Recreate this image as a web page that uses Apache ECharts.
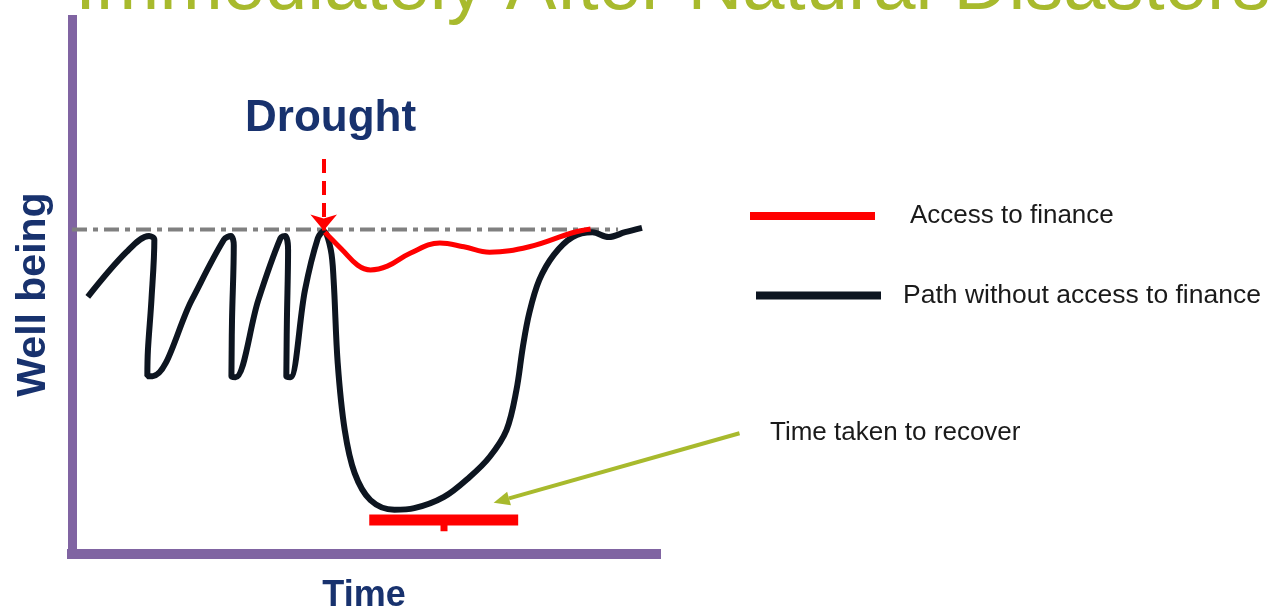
<!DOCTYPE html>
<html>
<head>
<meta charset="utf-8">
<title>Well being after drought</title>
<script src="https://cdn.jsdelivr.net/npm/echarts@6/dist/echarts.min.js"></script>
<style>
  html, body { margin: 0; padding: 0; background: #fff; }
  #chart { width: 1269px; height: 612px; }
</style>
</head>
<body>
<div id="chart"></div>
<script>
// time runs 0..100 left to right, well being 0..100 bottom to top
const normalLevel = 60.2
const baseline = [[0, normalLevel], [93.5, normalLevel]]

// path without access to finance (zig-zag, then the deep dip after the drought)
const noFinance = [
  [2.7, 47.7], [9.3, 56.0], [13.2, 59.0], [14.1, 58.3], [13.6, 47.1], [13.0, 37.8], [12.9, 33.0], [13.8, 33.0],
  [20.5, 47.1], [26.0, 58.3], [27.2, 59.0], [27.7, 57.3], [27.4, 43.4], [27.3, 33.0], [28.0, 32.8],
  [31.9, 47.1], [35.7, 58.6], [36.5, 59.0], [37.0, 56.4], [36.8, 43.4], [36.7, 33.0], [37.4, 32.8],
  [39.9, 49.0], [42.1, 58.6], [43.1, 59.9], [44.3, 56.5], [44.8, 50.8], [45.5, 35.4], [46.7, 23.0],
  [48.4, 15.0], [51.1, 10.0], [55.2, 8.2], [58.6, 8.5], [63.7, 10.6], [68.1, 14.3], [71.5, 18.0],
  [74.4, 23.0], [76.1, 30.4], [77.2, 38.4], [78.3, 44.7], [80.0, 50.8], [82.5, 55.5], [85.7, 58.8],
  [89.1, 59.7], [91.9, 58.8], [94.7, 59.7], [97.6, 60.5]
]

// path with access to finance
const withFinance = [
  [43.3, 59.7], [46.3, 56.4], [48.9, 53.6], [51.1, 52.7], [54.0, 53.4], [57.9, 55.8], [63.0, 57.7],
  [67.1, 57.0], [71.5, 56.0], [78.3, 57.0], [85.7, 59.6], [88.8, 60.3]
]

// drought hits at this moment
const droughtTime = 43.1
const droughtArrow = [[droughtTime, 73.3], [droughtTime, 60.0]]

// recovery period bar and its middle tick
const recoverBar = [[50.9, 6.3], [76.4, 6.3]]
const recoverTick = [[63.7, 6.3], [63.7, 4.2]]

// green pointer from the note to the recovery bar
const pointerFrom = [114.3, 22.4]
const pointerTo = [72.2, 9.5]

const navy = '#18326e'
const purple = '#8064a2'
const olive = '#a8ba2d'

let chart = echarts.init(document.getElementById('chart'))

let option = {
  animation: false,
  grid: {
    left: 72,
    right: 613,
    top: 15,
    bottom: 58,
    outerBoundsMode: 'none'
  },
  xAxis: {
    type: 'value',
    min: 0,
    max: 100,
    name: 'Time',
    nameLocation: 'middle',
    nameGap: 24,
    nameTextStyle: {
      color: navy,
      fontFamily: 'Liberation Sans',
      fontWeight: 'bold',
      fontSize: 36,
      verticalAlign: 'top'
    },
    axisLine: { lineStyle: { color: purple, width: 10, cap: 'square' } },
    axisTick: { show: false },
    axisLabel: { show: false },
    splitLine: { show: false }
  },
  yAxis: {
    type: 'value',
    min: 0,
    max: 100,
    name: 'Well being',
    nameLocation: 'middle',
    nameGap: 18,
    nameTextStyle: {
      color: navy,
      fontFamily: 'Liberation Sans',
      fontWeight: 'bold',
      fontSize: 41,
      padding: [0, 20, 0, 0]
    },
    axisLine: { lineStyle: { color: purple, width: 9, cap: 'butt' } },
    axisTick: { show: false },
    axisLabel: { show: false },
    splitLine: { show: false }
  },
  legend: [{
    data: ['Access to finance'],
    left: 750,
    top: 203,
    padding: 0,
    icon: 'rect',
    itemWidth: 125,
    itemHeight: 8,
    textStyle: { fontFamily: 'Liberation Sans', fontSize: 26, color: '#1a1a1a', padding: [0, 0, 0, 30] }
  }, {
    data: ['Path without access to finance'],
    left: 756,
    top: 282,
    padding: 0,
    icon: 'rect',
    itemWidth: 125,
    itemHeight: 8,
    textStyle: { fontFamily: 'Liberation Sans', fontSize: 26.5, color: '#1a1a1a', padding: [0, 0, 0, 17] }
  }],
  series: [{
    name: 'normal',
    type: 'line',
    data: baseline,
    symbol: 'none',
    z: 1,
    lineStyle: { color: '#808080', width: 4, type: [15, 6, 5, 6] },
    markLine: {
      silent: true,
      symbol: ['none', 'arrow'],
      symbolSize: [20, 16],
      label: { show: false },
      lineStyle: { color: '#ff0000', width: 4, type: [14, 8] },
      data: [[{ coord: droughtArrow[0] }, { coord: droughtArrow[1] }]]
    }
  }, {
    name: 'Path without access to finance',
    type: 'line',
    data: noFinance,
    smooth: 0.35,
    symbol: 'none',
    color: '#0d1520',
    z: 3,
    lineStyle: { color: '#0d1520', width: 6 }
  }, {
    name: 'Access to finance',
    type: 'line',
    data: withFinance,
    smooth: 0.4,
    symbol: 'none',
    color: '#ff0000',
    z: 4,
    lineStyle: { color: '#ff0000', width: 5 }
  }, {
    name: 'recover',
    type: 'line',
    data: recoverBar,
    symbol: 'none',
    z: 4,
    lineStyle: { color: '#ff0000', width: 11 }
  }, {
    name: 'tick',
    type: 'line',
    data: recoverTick,
    symbol: 'none',
    z: 4,
    lineStyle: { color: '#ff0000', width: 7 }
  }]
}

chart.setOption(option)

// annotations: clipped title, drought label, note and its arrow
let a = chart.convertToPixel({ gridIndex: 0 }, pointerFrom)
let b = chart.convertToPixel({ gridIndex: 0 }, pointerTo)
let dx = b[0] - a[0], dy = b[1] - a[1]
let len = Math.sqrt(dx * dx + dy * dy)
let ux = dx / len, uy = dy / len
let head = 16, half = 7
let base = [b[0] - ux * head, b[1] - uy * head]

chart.setOption({
  graphic: [{
    type: 'text',
    left: 75,
    top: -50,
    style: {
      text: 'Immediately After Natural Disasters',
      fill: olive,
      font: '76px "Liberation Sans"'
    }
  }, {
    type: 'text',
    left: 245,
    top: 97,
    style: {
      text: 'Drought',
      fill: navy,
      font: 'bold 44px "Liberation Sans"'
    }
  }, {
    type: 'text',
    left: 770,
    top: 420,
    style: {
      text: 'Time taken to recover',
      fill: '#1a1a1a',
      font: '26px "Liberation Sans"'
    }
  }, {
    type: 'line',
    shape: { x1: a[0], y1: a[1], x2: base[0], y2: base[1] },
    style: { stroke: olive, lineWidth: 4 }
  }, {
    type: 'polygon',
    shape: {
      points: [
        b,
        [base[0] - uy * half, base[1] + ux * half],
        [base[0] + uy * half, base[1] - ux * half]
      ]
    },
    style: { fill: olive }
  }]
})
</script>
</body>
</html>
